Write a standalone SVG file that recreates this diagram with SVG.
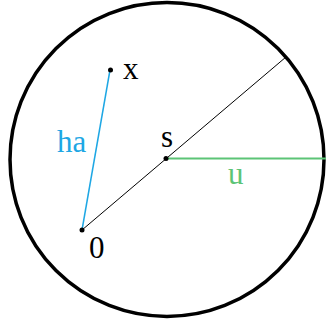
<svg xmlns="http://www.w3.org/2000/svg" width="326" height="324" viewBox="0 0 326 324">
<style>
text{font-family:"Liberation Serif","Times New Roman",serif;font-size:31px}
.dot{fill:#000}
</style>
<rect width="326" height="324" fill="#fff"/>
<g id="circle"><circle cx="167" cy="159.5" r="157" fill="none" stroke="#000" stroke-width="3.5"/></g>
<g id="connectors">
<line x1="82" y1="230" x2="110" y2="70" stroke="#1ea7e4" stroke-width="1.5"/>
<line x1="82" y1="230" x2="286" y2="57" stroke="#000" stroke-width="1"/>
<line x1="166" y1="158.5" x2="326" y2="158.5" stroke="#5cc476" stroke-width="2"/>
</g>
<g id="x"><circle class="dot" cx="110.5" cy="70" r="2.5"/><text x="123" y="79">x</text></g>
<g id="zero"><circle class="dot" cx="82" cy="230" r="2.5"/><text x="89" y="258">0</text></g>
<g id="s"><circle class="dot" cx="166" cy="158.5" r="2.5"/><text x="161" y="147">s</text></g>
<g id="ha"><text x="57" y="152" fill="#1ea7e4">ha</text></g>
<g id="u"><text x="228" y="184" fill="#5cc476">u</text></g>
</svg>
